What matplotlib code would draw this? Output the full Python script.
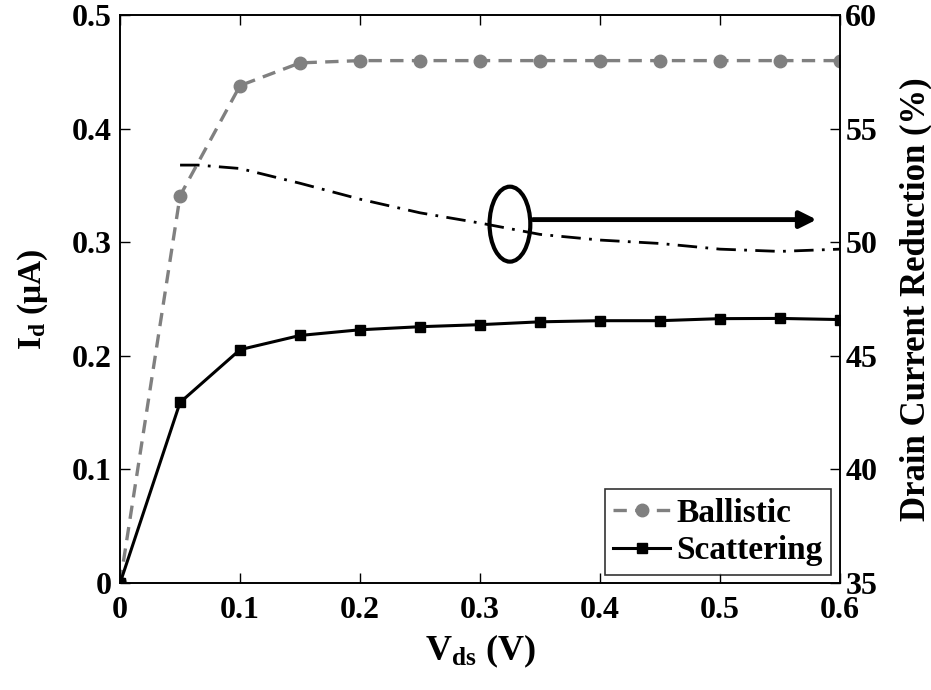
import numpy as np
import matplotlib
matplotlib.use("Agg")
import matplotlib.pyplot as plt
from matplotlib.patches import Ellipse

plt.rcParams['font.family'] = ['Liberation Serif', 'DejaVu Serif']
plt.rcParams['font.weight'] = 'bold'
plt.rcParams['mathtext.fontset'] = 'custom'
plt.rcParams['mathtext.rm'] = 'Liberation Serif:bold'
plt.rcParams['mathtext.it'] = 'Liberation Serif:bold'
plt.rcParams['mathtext.bf'] = 'Liberation Serif:bold'

vds = [0, 0.05, 0.1, 0.15, 0.2, 0.25, 0.3, 0.35, 0.4, 0.45, 0.5, 0.55, 0.6]
ballistic = [0, 0.341, 0.438, 0.458, 0.460, 0.460, 0.460, 0.460, 0.460, 0.460, 0.460, 0.460, 0.460]
scattering = [0, 0.159, 0.2055, 0.218, 0.223, 0.2257, 0.2275, 0.230, 0.231, 0.231, 0.2328, 0.233, 0.232]

vds_red = [0.05, 0.065, 0.1, 0.15, 0.2, 0.25, 0.3, 0.35, 0.4, 0.45, 0.5, 0.55, 0.6]
reduction = [53.4, 53.4, 53.25, 52.6, 51.9, 51.3, 50.85, 50.35, 50.1, 49.95, 49.7, 49.6, 49.7]

xticks = [0, 0.1, 0.2, 0.3, 0.4, 0.5, 0.6]
xlabels = ['0', '0.1', '0.2', '0.3', '0.4', '0.5', '0.6']
yticks = [0, 0.1, 0.2, 0.3, 0.4, 0.5]
ylabels = ['0', '0.1', '0.2', '0.3', '0.4', '0.5']
y2ticks = [35, 40, 45, 50, 55, 60]

fig = plt.figure(figsize=(9.31, 6.9), dpi=100)
ax = fig.add_axes([0.129, 0.155, 0.773, 0.823])

ax.plot(vds, ballistic, '--', color='#808080', lw=2.4, marker='o', ms=9,
        dashes=(4, 2.5), label='Ballistic')
ax.plot(vds, scattering, '-', color='black', lw=2.2, marker='s', ms=7,
        label='Scattering')

ax.set_xlim(0, 0.6)
ax.set_ylim(0, 0.5)
ax.set_xticks(xticks)
ax.set_xticklabels(xlabels)
ax.set_yticks(yticks)
ax.set_yticklabels(ylabels)
ax.tick_params(direction='in', labelsize=23, length=7, width=1, top=True)
ax.tick_params(axis='x', pad=9)
ax.tick_params(axis='y', pad=6)
ax.set_xlabel(r'V$_{\mathrm{ds}}$ (V)', fontsize=26, fontweight='bold', labelpad=6)
ax.set_ylabel(r'I$_{\mathrm{d}}$ ($\mu$A)', fontsize=24, fontweight='bold', labelpad=16)

ax2 = ax.twinx()
ax2.plot(vds_red, reduction, color='black', lw=2, dashes=(7, 3, 1, 3))
ax2.set_ylim(35, 60)
ax2.set_yticks(y2ticks)
ax2.tick_params(direction='in', labelsize=23, length=7, width=1, pad=4)
ax2.set_ylabel('Drain Current Reduction (%)', fontsize=25, fontweight='bold', labelpad=16)

ax2.add_patch(Ellipse((0.325, 50.8), 0.034, 3.3, fill=False, lw=3, color='black'))
ax2.annotate('', xy=(0.583, 51.0), xytext=(0.342, 51.0),
             arrowprops=dict(arrowstyle='-|>', lw=3.5, color='black', mutation_scale=25))

for a in (ax, ax2):
    for s in a.spines.values():
        s.set_linewidth(1.2)

leg = ax.legend(loc='lower right', fontsize=24, frameon=True, fancybox=False,
                edgecolor='black', handlelength=1.7, handletextpad=0.2,
                borderpad=0.25, labelspacing=0.2, borderaxespad=0.25)
leg.get_frame().set_linewidth(1.2)
for t in leg.get_texts():
    t.set_fontweight('bold')

fig.savefig('out.png', dpi=100)
